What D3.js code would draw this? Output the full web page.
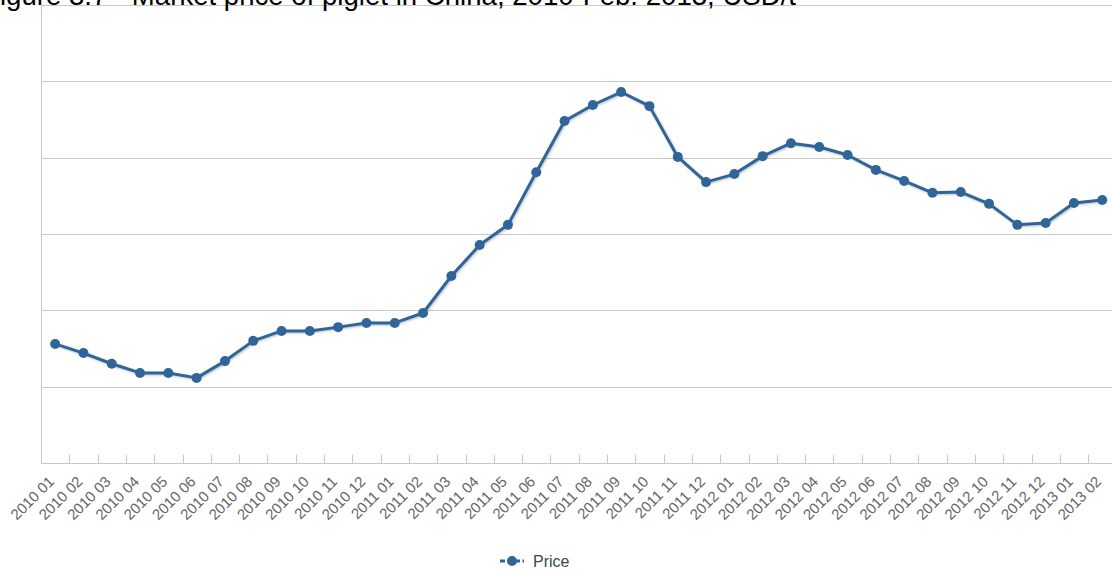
<!DOCTYPE html>
<html><head><meta charset="utf-8">
<script src="https://cdn.jsdelivr.net/npm/d3@7"></script>
<style>
html,body{margin:0;padding:0;background:#fff;overflow:hidden}
svg{display:block;font-family:Arial,"Liberation Sans",sans-serif}
</style></head>
<body><svg id="c" width="1112" height="573"></svg>
<script>
const title = "Figure 3.7 - Market price of piglet in China, 2010-Feb. 2013, USD/t";
const months = ["2010 01","2010 02","2010 03","2010 04","2010 05","2010 06","2010 07","2010 08","2010 09","2010 10","2010 11","2010 12",
"2011 01","2011 02","2011 03","2011 04","2011 05","2011 06","2011 07","2011 08","2011 09","2011 10","2011 11","2011 12",
"2012 01","2012 02","2012 03","2012 04","2012 05","2012 06","2012 07","2012 08","2012 09","2012 10","2012 11","2012 12",
"2013 01","2013 02"];
const price = [1560,1440,1300,1180,1180,1115,1335,1600,1730,1730,1780,1835,
1835,1965,2450,2855,3120,3810,4480,4690,4860,4675,4010,3680,
3785,4020,4190,4140,4035,3840,3695,3540,3550,3395,3120,3145,
3405,3445];
const yTicks = [0,1000,2000,3000,4000,5000,6000];
const seriesName = "Price";

const svg = d3.select("#c");
const pLeft = 41, pTop = 5, pBottom = 463;
const band = 28.3;
const pRight = pLeft + band * months.length;

const x = d3.scaleBand().domain(months).range([pLeft, pRight]).padding(0);
const y = d3.scaleLinear().domain([0, 6000]).range([pBottom, pTop]);

// gridlines
svg.append("g").selectAll("line").data(yTicks).join("line")
  .attr("x1", pLeft).attr("x2", 1112)
  .attr("y1", d => Math.round(y(d)) + 0.5).attr("y2", d => Math.round(y(d)) + 0.5)
  .attr("stroke", "#c8c8c8").attr("stroke-width", 1);

// left axis line
svg.append("line").attr("x1", pLeft + 0.5).attr("x2", pLeft + 0.5)
  .attr("y1", pTop).attr("y2", pBottom + 0.5).attr("stroke", "#c8c8c8");

// x axis
const xAxis = d3.axisBottom(x).tickSize(0).tickPadding(0);
const gx = svg.append("g").attr("transform", `translate(0,${Math.round(pBottom) + 0.5})`).call(xAxis);
gx.select(".domain").attr("stroke", "#c8c8c8").attr("d", `M${pLeft},0H1112`);
gx.selectAll(".bnd").data(months).join("line").attr("class","bnd")
  .attr("x1", d => Math.round(x(d) + band) + 0.5).attr("x2", d => Math.round(x(d) + band) + 0.5)
  .attr("y1", 0).attr("y2", -9).attr("stroke", "#c8c8c8");
gx.selectAll(".tick text")
  .attr("fill", "#666").attr("font-size", "15px")
  .attr("text-anchor", "end")
  .attr("dy", "0")
  .attr("transform", "translate(0,19) rotate(-45)");

const defs = svg.append("defs");
const f = defs.append("filter").attr("id", "sh").attr("x", "-5%").attr("y", "-5%").attr("width", "110%").attr("height", "120%");
f.append("feDropShadow").attr("dx", 1).attr("dy", 1).attr("stdDeviation", 1.2).attr("flood-color", "#000").attr("flood-opacity", 0.25);

const color = "#2f6599";
const line = d3.line().x((d, i) => x(months[i]) + band / 2).y(d => y(d));
svg.append("path").datum(price).attr("d", line)
  .attr("fill", "none").attr("stroke", color).attr("stroke-width", 3)
  .attr("stroke-linejoin", "round").attr("filter", "url(#sh)");
svg.append("g").selectAll("circle").data(price).join("circle")
  .attr("cx", (d, i) => x(months[i]) + band / 2).attr("cy", d => y(d))
  .attr("r", 5).attr("fill", color);

// legend
const lg = svg.append("g").attr("transform", "translate(500,561)");
lg.append("line").attr("x1", 0).attr("x2", 24).attr("y1", 0).attr("y2", 0)
  .attr("stroke", color).attr("stroke-width", 3).attr("stroke-dasharray", "5,2.5");
lg.append("circle").attr("cx", 12).attr("cy", 0).attr("r", 5).attr("fill", color);
lg.append("text").attr("x", 33).attr("y", 5.5).attr("font-size", "16px").attr("fill", "#3a4a4a").text(seriesName);

// title (cropped at top, as in the source)
svg.append("text").attr("x", 796).attr("y", 5).attr("text-anchor", "end")
  .attr("font-size", "27.6px").attr("fill", "#000").text(title);
</script></body></html>
